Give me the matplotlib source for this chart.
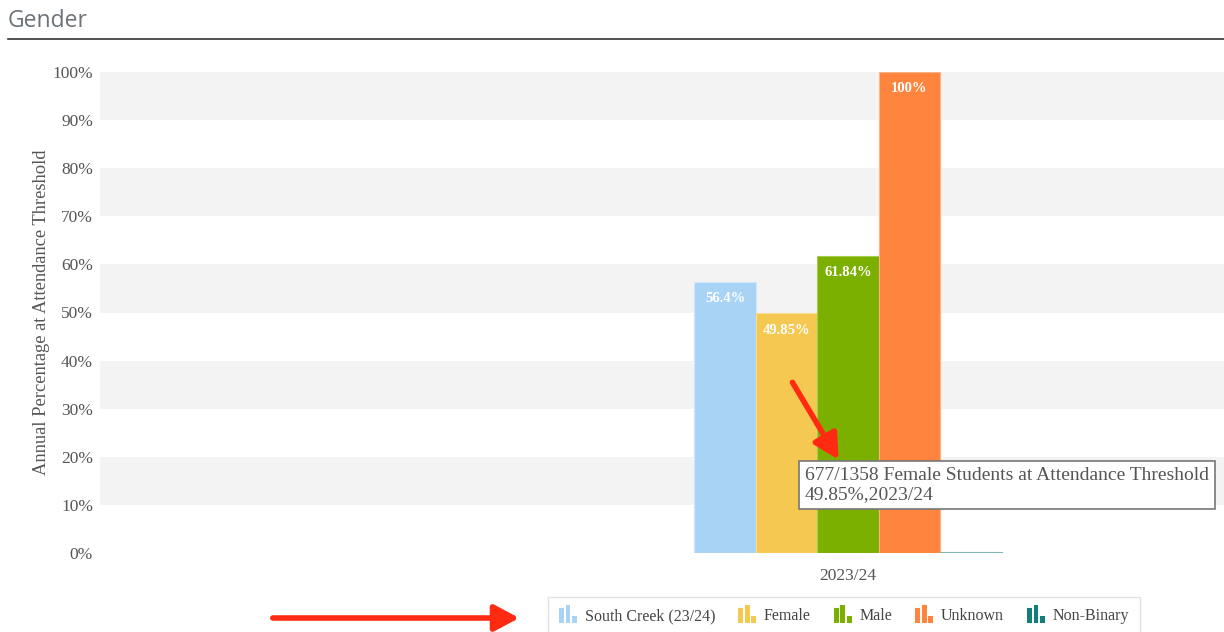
import numpy as np
import matplotlib.pyplot as plt
from matplotlib.patches import Rectangle
from matplotlib.container import BarContainer
from matplotlib.legend_handler import HandlerBase

plt.rcParams.update({'font.family': 'Liberation Serif'})

W, H = 1224, 632

category = '2023/24'
series = ['South Creek (23/24)', 'Female', 'Male', 'Unknown', 'Non-Binary']
values = [56.4, 49.85, 61.84, 100.0, 0.3]
labels = ['56.4%', '49.85%', '61.84%', '100%', '']
colors = ['#a9d3f5', '#f5c851', '#7cb000', '#ff843d', '#108079']
edges = ['#cfe6fa', '#f8dc90', '#a6cc4f', '#ffb288', '#7ab9b6']
yticks = np.arange(0, 101, 10)

def fx(px):
    return px / W

def fy(py):
    return 1 - py / H

fig = plt.figure(figsize=(W/100, H/100), dpi=100)
ax = fig.add_axes([fx(100), fy(553), fx(1224) - fx(100), fy(72) - fy(553)])

# alternating grid bands
for i, lo in enumerate(yticks[:-1]):
    if i % 2 == 1:
        ax.axhspan(lo, lo + 10, color='#f3f3f3', lw=0, zorder=0)

offsets = np.arange(len(series)) - (len(series) - 1) / 2
for off, v, lab, c, ec, name in zip(offsets, values, labels, colors, edges, series):
    ax.bar(off, v, width=1.0, color=c, edgecolor=ec, lw=0.8, zorder=2, label=name)
    if lab:
        ax.text(off, v - 3.5, lab, ha='center', va='center', color='white',
                fontsize=10.5, fontweight='bold', zorder=3)

ax.set_xlim((100 - 848) / 61.5, (1224 - 848) / 61.5)
ax.set_ylim(0, 100)
ax.set_xticks([0])
ax.set_xticklabels([category])
ax.set_yticks(yticks)
ax.set_yticklabels([f'{t}%' for t in yticks])
ax.tick_params(length=0, labelsize=12.5, colors='#555555')
ax.tick_params(axis='x', pad=11)
ax.tick_params(axis='y', pad=5)
for s in ax.spines.values():
    s.set_visible(False)
ax.set_ylabel('Annual Percentage at Attendance Threshold', fontsize=13.3,
              color='#555555', labelpad=2)

# header
fig.text(fx(8), fy(21), 'Gender', fontsize=16.5, color='#6b7378',
         family='Open Sans', va='center', ha='left')
fig.add_artist(plt.Line2D([fx(8), fx(1224)], [fy(39), fy(39)], color='#333333', lw=1.2))

# tooltip
fig.text(fx(805), fy(485), '677/1358 Female Students at Attendance Threshold\n49.85%,2023/24',
         fontsize=14, color='#555555', va='center', ha='left', linespacing=1.2,
         bbox=dict(boxstyle='square,pad=0.3', fc='white', ec='#777777', lw=1.2))

# red arrows
arrow = dict(arrowstyle='-|>,head_length=1.5,head_width=0.8', color='#ff2a12', lw=4)
fig.add_artist(plt.Annotation('', xy=(fx(840), fy(462)), xytext=(fx(791), fy(380)),
                              xycoords='figure fraction', textcoords='figure fraction',
                              arrowprops=arrow))
fig.add_artist(plt.Annotation('', xy=(fx(522), fy(618)), xytext=(fx(270), fy(618)),
                              xycoords='figure fraction', textcoords='figure fraction',
                              arrowprops=arrow))


class BarsIcon(HandlerBase):
    def create_artists(self, legend, orig_handle, xdescent, ydescent, width, height,
                       fontsize, trans):
        c = orig_handle.patches[0].get_facecolor()
        hs = [0.85, 1.0, 0.4]
        bw = width / 3.7
        arts = []
        for i, h in enumerate(hs):
            r = Rectangle((-xdescent + i * bw * 1.35, -ydescent - 2), bw, (height + 5) * h,
                          fc=c, ec='none', transform=trans)
            arts.append(r)
        return arts


handles, names = ax.get_legend_handles_labels()
leg = fig.legend(handles, names, loc='upper left', bbox_to_anchor=(fx(548), fy(597)),
                 ncol=5, frameon=True, fancybox=False, shadow=False, fontsize=11.5,
                 handler_map={BarContainer: BarsIcon()}, borderaxespad=0,
                 handlelength=1.1, handletextpad=0.5, columnspacing=1.45,
                 borderpad=0.7, labelcolor='#444444')
leg.get_frame().set_edgecolor('#dddddd')
leg.get_frame().set_linewidth(1.0)

fig.savefig('out.png', dpi=100)
